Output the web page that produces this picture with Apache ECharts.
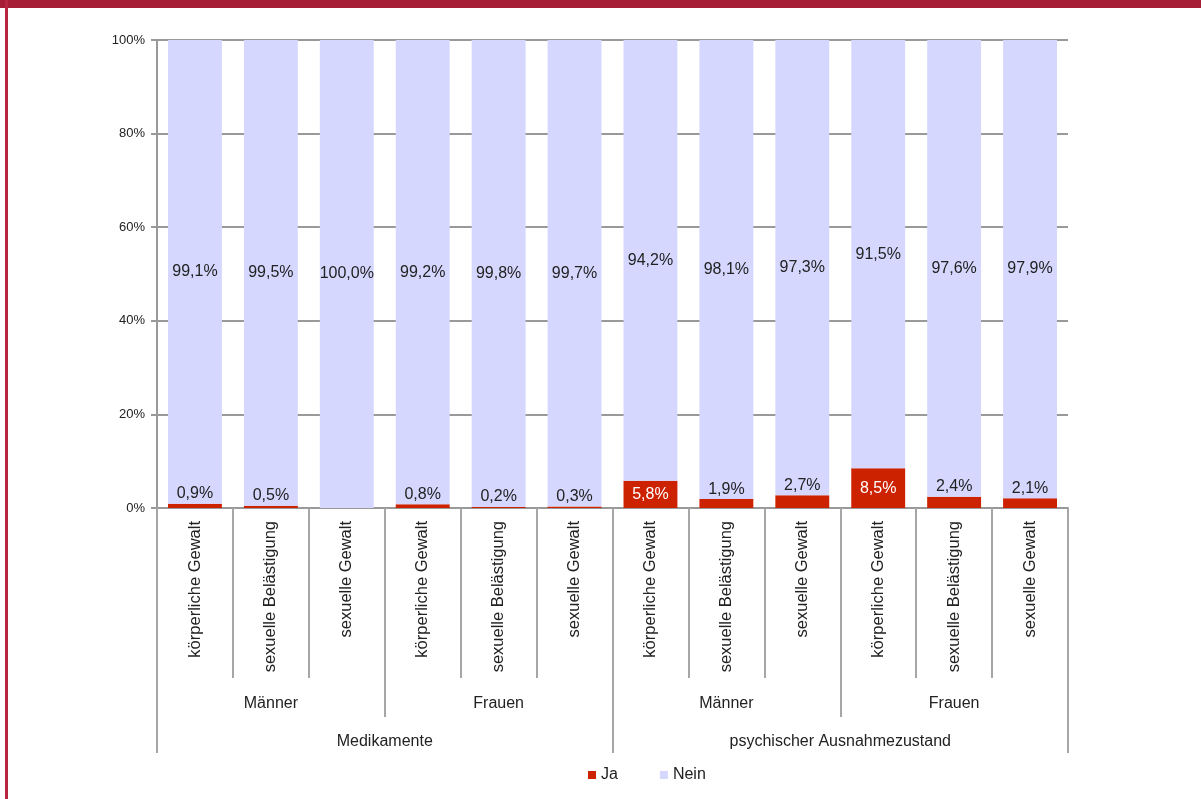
<!DOCTYPE html>
<html>
<head>
<meta charset="utf-8">
<script src="https://cdn.jsdelivr.net/npm/echarts@6/dist/echarts.min.js"></script>
<style>
    body { margin: 0; background: #fff; }
    #main { width: 1201px; height: 799px; }
</style>
</head>
<body>
<div id="main"></div>
<script>
// Kategorien (drei Ebenen)
var kategorien = ['körperliche Gewalt', 'sexuelle Belästigung', 'sexuelle Gewalt',
    'körperliche Gewalt', 'sexuelle Belästigung', 'sexuelle Gewalt',
    'körperliche Gewalt', 'sexuelle Belästigung', 'sexuelle Gewalt',
    'körperliche Gewalt', 'sexuelle Belästigung', 'sexuelle Gewalt'];
var geschlecht = ['Männer', 'Frauen', 'Männer', 'Frauen'];
var gruppe = ['Medikamente', 'psychischer Ausnahmezustand'];

// Werte in Prozent
var ja = [0.9, 0.5, 0, 0.8, 0.2, 0.3, 5.8, 1.9, 2.7, 8.5, 2.4, 2.1];
var nein = [99.1, 99.5, 100.0, 99.2, 99.8, 99.7, 94.2, 98.1, 97.3, 91.5, 97.6, 97.9];

var yTicks = [0, 20, 40, 60, 80, 100];

function fmt(v) {
    return v.toFixed(1).replace('.', ',') + '%';
}

var myChart = echarts.init(document.getElementById('main'));

var schrift = { fontFamily: 'Liberation Sans, Arial, sans-serif', color: '#222' };

// Ja-Werte: kleine Werte über dem Balken, große innen (weiß)
var jaData = ja.map(function (v) {
    if (v === 0) return { value: v, label: { show: false } };
    if (v < 5) return { value: v, label: { position: 'top', distance: 2, color: '#222' } };
    return { value: v, label: { position: 'inside', color: '#fff' } };
});

var option = {
    animation: false,
    textStyle: schrift,
    graphic: [
        { type: 'rect', shape: { x: 0, y: 0, width: 1201, height: 8 }, style: { fill: '#a51e36' } },
        { type: 'rect', shape: { x: 5, y: 0, width: 3, height: 799 }, style: { fill: '#b52840' } }
    ],
    legend: {
        bottom: 11,
        left: 583,
        icon: 'rect',
        itemWidth: 8,
        itemHeight: 8,
        itemGap: 42,
        textStyle: { fontSize: 16, color: '#222', fontFamily: schrift.fontFamily },
        data: ['Ja', 'Nein']
    },
    grid: {
        left: 157,
        right: 133,
        top: 40,
        bottom: 291
    },
    xAxis: [{
        type: 'category',
        data: kategorien,
        axisLine: { lineStyle: { color: '#999', width: 2 } },
        axisTick: { show: true, length: 170, lineStyle: { color: '#a6a6a6', width: 2 } },
        axisLabel: { rotate: 90, margin: 13, fontSize: 16.5, color: '#222', interval: 0 }
    }, {
        type: 'category',
        data: geschlecht,
        position: 'bottom',
        axisLine: { show: false },
        axisTick: { show: true, length: 209, lineStyle: { color: '#a6a6a6', width: 2 } },
        axisLabel: { margin: 188, fontSize: 16, color: '#222', interval: 0 }
    }, {
        type: 'category',
        data: gruppe,
        position: 'bottom',
        axisLine: { show: false },
        axisTick: { show: true, length: 245, lineStyle: { color: '#a6a6a6', width: 2 } },
        axisLabel: { margin: 226, fontSize: 16, color: '#222', interval: 0 }
    }],
    yAxis: {
        type: 'value',
        min: yTicks[0],
        max: yTicks[yTicks.length - 1],
        interval: 20,
        axisLine: { show: true, lineStyle: { color: '#999', width: 2 } },
        axisTick: { show: true, length: 6, lineStyle: { color: '#999', width: 2 } },
        axisLabel: { formatter: '{value}%', fontSize: 13, color: '#222', margin: 12 },
        splitLine: { lineStyle: { color: '#999', width: 2 } }
    },
    series: [{
        name: 'Ja',
        type: 'bar',
        stack: 'gesamt',
        xAxisIndex: 0,
        barWidth: '71%',
        itemStyle: { color: '#cc2200' },
        label: {
            show: true,
            fontSize: 16,
            formatter: function (p) { return fmt(p.value); }
        },
        data: jaData
    }, {
        name: 'Nein',
        type: 'bar',
        stack: 'gesamt',
        xAxisIndex: 0,
        barWidth: '71%',
        itemStyle: { color: '#d5d7fe' },
        label: {
            show: true,
            position: 'inside',
            fontSize: 16,
            color: '#222',
            formatter: function (p) { return fmt(p.value); }
        },
        data: nein
    }]
};

myChart.setOption(option);
window.addEventListener('resize', function () {
    myChart.resize();
});
</script>
</body>
</html>
